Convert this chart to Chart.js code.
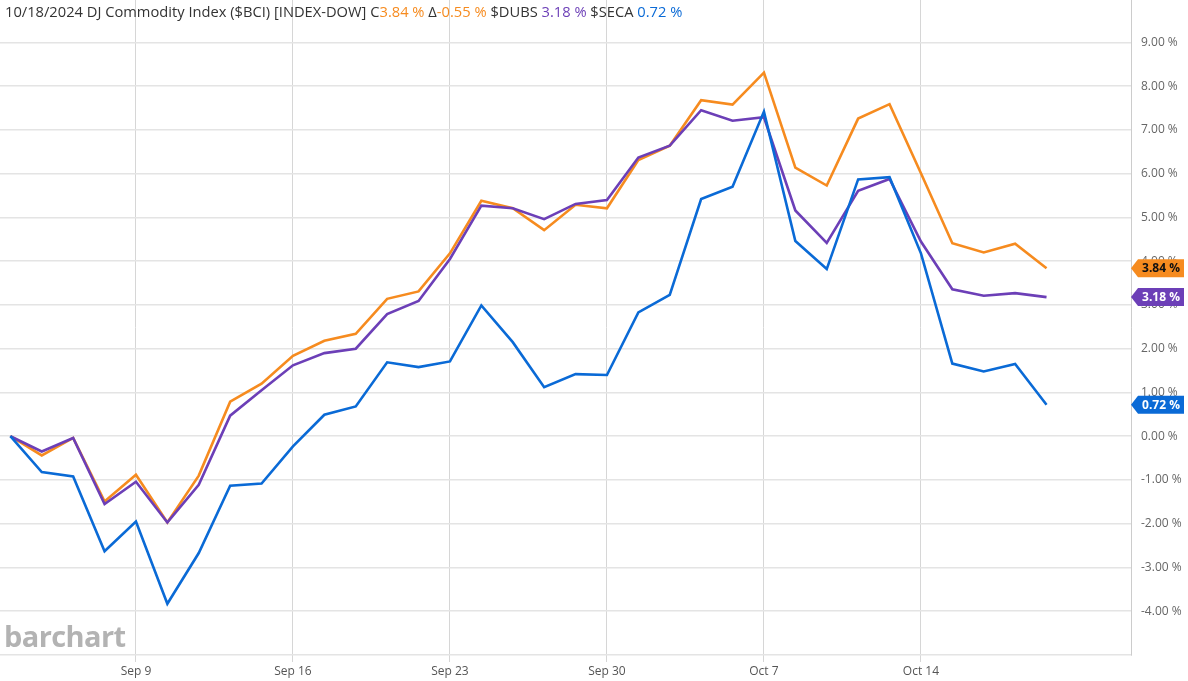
<!DOCTYPE html>
<html>
<head>
<meta charset="utf-8">
<script src="https://cdn.jsdelivr.net/npm/chart.js@4.4.1/dist/chart.umd.min.js"></script>
<style>
    html, body { margin: 0; padding: 0; background: #fff; }
    #wrap { position: relative; width: 1188px; height: 681px; }
    #title {
        position: absolute; left: 5px; top: 1px;
        font: 14.7px 'Open Sans', sans-serif; color: #333; white-space: pre;
    }
    #title .o { color: #f68b1f; }
    #title .p { color: #6c3fb7; }
    #title .b { color: #0a6ad6; }
    #logo {
        position: absolute; left: 4px; top: 616px;
        font: bold 29px 'Open Sans', sans-serif; color: #b3b3b3; letter-spacing: -0.6px;
    }
</style>
</head>
<body>
<div id="wrap">
    <canvas id="chart" width="1188" height="681"></canvas>
    <div id="title">10/18/2024 DJ Commodity Index ($BCI) [INDEX-DOW] C<span class="o">3.84 %</span> Δ<span class="o">-0.55 %</span> $DUBS <span class="p">3.18 %</span> $SECA <span class="b">0.72 %</span></div>
    <div id="logo">barchart</div>
</div>
<script>
// ---------------------------------------------------------------------------
// Data (percent change since Sep 3)
// ---------------------------------------------------------------------------
const dates = ['Sep 3', 'Sep 4', 'Sep 5', 'Sep 6', 'Sep 9', 'Sep 10', 'Sep 11', 'Sep 12', 'Sep 13',
    'Sep 16', 'Sep 17', 'Sep 18', 'Sep 19', 'Sep 20', 'Sep 23', 'Sep 24', 'Sep 25', 'Sep 26', 'Sep 27',
    'Sep 30', 'Oct 1', 'Oct 2', 'Oct 3', 'Oct 4', 'Oct 7', 'Oct 8', 'Oct 9', 'Oct 10', 'Oct 11',
    'Oct 14', 'Oct 15', 'Oct 16', 'Oct 17', 'Oct 18'];

const weekTicks = ['Sep 9', 'Sep 16', 'Sep 23', 'Sep 30', 'Oct 7', 'Oct 14'];

const bci = [0, -0.44, -0.04, -1.49, -0.88, -1.97, -0.90, 0.79, 1.20, 1.84, 2.18, 2.34, 3.14, 3.31,
    4.18, 5.38, 5.21, 4.71, 5.29, 5.21, 6.31, 6.64, 7.68, 7.58, 8.31, 6.14, 5.73, 7.26, 7.59, 6.01,
    4.41, 4.20, 4.40, 3.84];
const dubs = [0, -0.35, -0.04, -1.55, -1.04, -1.97, -1.11, 0.47, 1.05, 1.62, 1.90, 2.00, 2.79, 3.09,
    4.05, 5.27, 5.21, 4.96, 5.31, 5.40, 6.37, 6.64, 7.45, 7.21, 7.29, 5.16, 4.42, 5.61, 5.88, 4.45,
    3.36, 3.21, 3.27, 3.18];
const seca = [0, -0.82, -0.92, -2.63, -1.95, -3.83, -2.67, -1.13, -1.08, -0.23, 0.49, 0.68, 1.69, 1.58,
    1.71, 2.99, 2.15, 1.12, 1.42, 1.40, 2.83, 3.23, 5.42, 5.70, 7.42, 4.46, 3.82, 5.87, 5.92, 4.18,
    1.66, 1.48, 1.65, 0.72];

const yTicks = [-5, -4, -3, -2, -1, 0, 1, 2, 3, 4, 5, 6, 7, 8, 9];

const COLORS = { bci: '#f68b1f', dubs: '#6c3fb7', seca: '#0a6ad6' };

// ---------------------------------------------------------------------------
// Helpers
// ---------------------------------------------------------------------------
function toPoints(values) {
    return values.map((v, i) => ({ x: i, y: v }));
}

function lineDataset(label, values, color, textColor) {
    return {
        label,
        data: toPoints(values),
        borderColor: color,
        backgroundColor: color,
        badgeText: textColor,
        borderWidth: 2.6,
        pointRadius: 0,
        tension: 0,
        fill: false,
    };
}

// price tags on the right axis, pointing at the last value
const lastValueTags = {
    id: 'lastValueTags',
    afterDraw(chart) {
        const { ctx, chartArea } = chart;
        const yScale = chart.scales.y;
        ctx.save();
        ctx.font = "bold 12px 'Open Sans', sans-serif";
        ctx.textBaseline = 'middle';
        ctx.textAlign = 'center';
        chart.data.datasets.forEach(ds => {
            const last = ds.data[ds.data.length - 1].y;
            const y = yScale.getPixelForValue(last);
            const x0 = chartArea.right;
            const h = 18, tip = 7, w = 53;
            ctx.fillStyle = ds.borderColor;
            ctx.beginPath();
            ctx.moveTo(x0, y);
            ctx.lineTo(x0 + tip, y - h / 2);
            ctx.lineTo(x0 + w, y - h / 2);
            ctx.lineTo(x0 + w, y + h / 2);
            ctx.lineTo(x0 + tip, y + h / 2);
            ctx.closePath();
            ctx.fill();
            ctx.fillStyle = ds.badgeText;
            ctx.fillText(last.toFixed(2) + ' %', x0 + tip + (w - tip) / 2, y + 0.5);
        });
        ctx.restore();
    }
};

// ---------------------------------------------------------------------------
// Chart
// ---------------------------------------------------------------------------
new Chart(document.getElementById('chart'), {
    type: 'line',
    data: {
        datasets: [
            lineDataset('$SECA', seca, COLORS.seca, '#ffffff'),
            lineDataset('$DUBS', dubs, COLORS.dubs, '#ffffff'),
            lineDataset('$BCI', bci, COLORS.bci, '#111111'),
        ]
    },
    options: {
        responsive: false,
        animation: false,
        layout: { padding: 0 },
        plugins: { legend: { display: false }, tooltip: { enabled: false } },
        scales: {
            x: {
                type: 'linear',
                min: -0.33,
                max: 35.69,
                afterBuildTicks: (s) => { s.ticks = weekTicks.map(t => ({ value: dates.indexOf(t) })); },
                afterFit: (s) => { s.height = 26; s.paddingLeft = 0; s.paddingRight = 0; },
                ticks: {
                    callback: (v) => dates[v],
                    color: '#555',
                    font: { family: "'Open Sans', sans-serif", size: 12 },
                    maxRotation: 0,
                    autoSkip: false,
                    padding: 2,
                },
                grid: { color: '#d6d6d6', lineWidth: 1, tickLength: 7 },
                border: { display: false },
            },
            y: {
                position: 'right',
                min: -5,
                max: 9.97,
                afterBuildTicks: (s) => { s.ticks = yTicks.map(v => ({ value: v })); },
                afterFit: (s) => { s.width = 57; s.paddingTop = 0; s.paddingBottom = 0; },
                ticks: {
                    callback: (v) => v === -5 ? '' : v.toFixed(2) + ' %',
                    color: '#666',
                    font: { family: "'Open Sans', sans-serif", size: 12 },
                    padding: 10,
                },
                grid: { color: '#e4e4e4', lineWidth: 1.6, tickLength: 0 },
                border: { display: true, color: '#cccccc', width: 1 },
            },
        },
    },
    plugins: [lastValueTags],
});
</script>
</body>
</html>
